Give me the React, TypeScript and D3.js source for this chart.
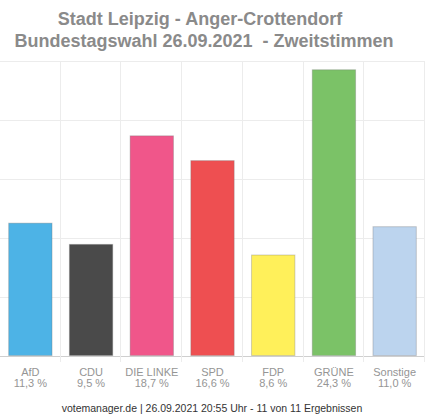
import React, { useEffect, useRef } from 'react'
import * as d3 from 'd3'

const parties = ['AfD', 'CDU', 'DIE LINKE', 'SPD', 'FDP', 'GRÜNE', 'Sonstige']
const shares = [11.3, 9.5, 18.7, 16.6, 8.6, 24.3, 11.0]
const colors = ['#4db3e6', '#4a4a4a', '#f0568a', '#ee4f51', '#fff05a', '#7bc267', '#bcd4ee']
const yTicks = [0, 5, 10, 15, 20, 25]
const titleLines = ['Stadt Leipzig - Anger-Crottendorf', 'Bundestagswahl 26.09.2021\u00a0\u00a0- Zweitstimmen']
const footer = 'votemanager.de | 26.09.2021 20:55 Uhr - 11 von 11 Ergebnissen'

export default function App() {
  const ref = useRef<SVGSVGElement>(null)

  useEffect(() => {
    const svg = d3.select(ref.current)
    svg.selectAll('*').remove()

    const width = 427
    const height = 415
    const margin = { top: 61, right: 2, bottom: 59, left: 0 }
    const font = 'Liberation Sans, Arial, sans-serif'

    const x = d3.scaleBand()
      .domain(parties)
      .range([margin.left, width - margin.right])
      .paddingInner(0.27)
      .paddingOuter(0.135)

    const y = d3.scaleLinear()
      .domain([0, 25])
      .range([height - margin.bottom, margin.top])

    // title
    svg.append('g')
      .selectAll('text')
      .data(titleLines)
      .join('text')
      .attr('x', (d, i) => i === 0 ? 200 : 204)
      .attr('y', (d, i) => 25 + i * 22)
      .attr('text-anchor', 'middle')
      .attr('font-family', font)
      .attr('font-weight', 'bold')
      .attr('font-size', 18)
      .attr('fill', '#8a8a8a')
      .text(d => d)

    // horizontal grid
    svg.append('g')
      .selectAll('line')
      .data(yTicks)
      .join('line')
      .attr('x1', margin.left)
      .attr('x2', width - margin.right)
      .attr('y1', d => Math.round(y(d)) + 0.5)
      .attr('y2', d => Math.round(y(d)) + 0.5)
      .attr('stroke', d => d === 0 ? '#cfcfcf' : '#ececec')

    // vertical grid between categories
    const step = x.step()
    const bounds = d3.range(1, parties.length + 1).map(i => margin.left + i * step)
    svg.append('g')
      .selectAll('line')
      .data(bounds)
      .join('line')
      .attr('x1', d => Math.round(d) - 0.5)
      .attr('x2', d => Math.round(d) - 0.5)
      .attr('y1', y(25))
      .attr('y2', y(0) + 6)
      .attr('stroke', '#ececec')

    // bars
    svg.append('g')
      .selectAll('rect')
      .data(parties)
      .join('rect')
      .attr('x', d => x(d)! + 0.5)
      .attr('y', (d, i) => y(shares[i]) + 0.5)
      .attr('width', x.bandwidth() - 1)
      .attr('height', (d, i) => y(0) - y(shares[i]) - 1)
      .attr('fill', (d, i) => colors[i])
      .attr('stroke', 'rgba(120,120,120,0.35)')

    // category labels
    const labels = svg.append('g')
      .attr('font-family', font)
      .attr('font-size', 11)
      .attr('fill', '#959595')
      .attr('text-anchor', 'middle')

    labels.selectAll('text.name')
      .data(parties)
      .join('text')
      .attr('class', 'name')
      .attr('x', d => x(d)! + x.bandwidth() / 2)
      .attr('y', 376)
      .text(d => d)

    labels.selectAll('text.val')
      .data(parties)
      .join('text')
      .attr('class', 'val')
      .attr('x', d => x(d)! + x.bandwidth() / 2)
      .attr('y', 387)
      .text((d, i) => shares[i].toFixed(1).replace('.', ',') + ' %')

    // footer
    svg.append('text')
      .attr('x', 212)
      .attr('y', 412)
      .attr('text-anchor', 'middle')
      .attr('font-family', font)
      .attr('font-size', 10.5)
      .attr('fill', '#333')
      .text(footer)
  }, [])

  return (
    <svg ref={ref} width={427} height={415}
      style={{ position: 'absolute', left: 0, top: 0, background: '#fff' }} />
  )
}
